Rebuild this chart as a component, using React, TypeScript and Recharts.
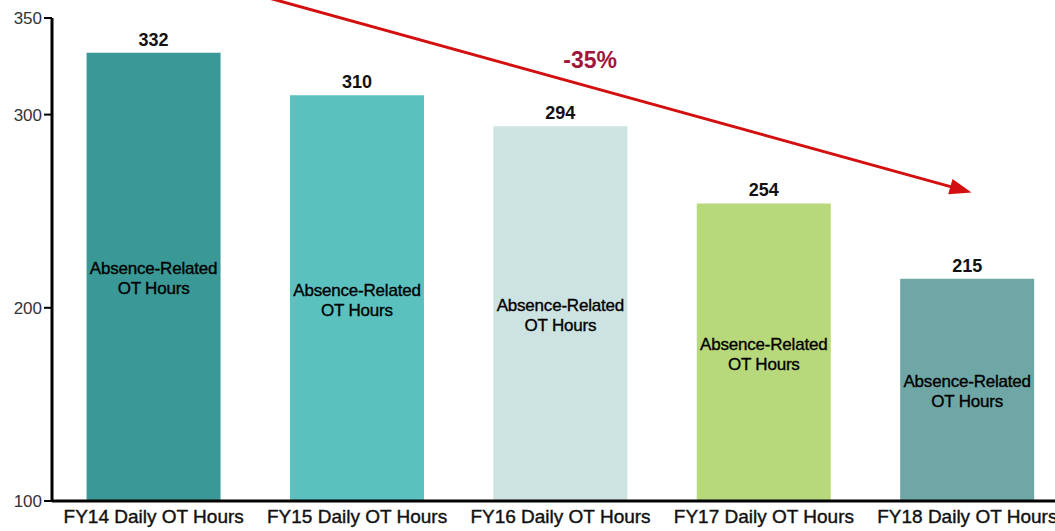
import React from "react";
import {
  BarChart,
  Bar,
  XAxis,
  YAxis,
  Cell,
  LabelList,
  ReferenceLine,
} from "recharts";

const categories = [
  "FY14 Daily OT Hours",
  "FY15 Daily OT Hours",
  "FY16 Daily OT Hours",
  "FY17 Daily OT Hours",
  "FY18 Daily OT Hours",
];
const values = [332, 310, 294, 254, 215];
const barColors = ["#3A9896", "#5BC1BF", "#CDE3E1", "#B8D87C", "#6FA6A6"];
const yTicks = [100, 200, 300, 350];
const innerLabel = ["Absence-Related", "OT Hours"];
const changeLabel = "-35%";
// trend arrow anchored at FY15 and FY18 category centres (values on the y scale)
const arrowFrom = { x: "FY15 Daily OT Hours", y: 347.7 };
const arrowTo = { x: "FY18 Daily OT Hours", y: 260.3 };
const arrowExtendStart = 0.18;
const arrowExtendEnd = 0.007;
const changeLabelAt = 0.382;

const data = categories.map((c, i) => ({ name: c, value: values[i] }));

const FONT = "'Liberation Sans', Arial, sans-serif";

const InnerLabel = (props: any) => {
  const { x, y, width, height } = props;
  const cx = x + width / 2;
  const cy = y + height / 2;
  return (
    <text
      x={cx}
      y={cy}
      textAnchor="middle"
      fontFamily={FONT}
      fontSize={17}
      fill="#000"
      stroke="#000"
      strokeWidth={0.35}
      letterSpacing={-0.2}
    >
      <tspan x={cx} dy={-2.5}>{innerLabel[0]}</tspan>
      <tspan x={cx} dy={20}>{innerLabel[1]}</tspan>
    </text>
  );
};

const ArrowShape = (props: any) => {
  const { x1: ax, y1: ay, x2: bx0, y2: by0 } = props;
  const sdx = bx0 - ax;
  const sdy = by0 - ay;
  const x1 = ax - sdx * arrowExtendStart;
  const y1 = ay - sdy * arrowExtendStart;
  const x2 = bx0 + sdx * arrowExtendEnd;
  const y2 = by0 + sdy * arrowExtendEnd;
  const dx = x2 - x1;
  const dy = y2 - y1;
  const len = Math.sqrt(dx * dx + dy * dy);
  const ux = dx / len;
  const uy = dy / len;
  const headLen = 22;
  const headHalf = 8;
  const bx = x2 - ux * headLen;
  const by = y2 - uy * headLen;
  const px = -uy;
  const py = ux;
  const tx = ax + sdx * changeLabelAt;
  const ty = ay + sdy * changeLabelAt;
  return (
    <g>
      <line x1={x1} y1={y1} x2={bx + ux * 2} y2={by + uy * 2} stroke="#D40F0F" strokeWidth={3} />
      <polygon
        points={`${x2},${y2} ${bx + px * headHalf},${by + py * headHalf} ${bx - px * headHalf},${by - py * headHalf}`}
        fill="#D40F0F"
      />
      <text
        x={tx}
        y={ty - 19}
        textAnchor="middle"
        fontFamily={FONT}
        fontWeight="bold"
        fontSize={23}
        fill="#A0153E"
      >
        {changeLabel}
      </text>
    </g>
  );
};

export default function App() {
  return (
    <div
      style={{
        position: "fixed",
        left: 0,
        top: 0,
        width: 1055,
        height: 531,
        overflow: "hidden",
        background: "#fff",
      }}
    >
      <BarChart
        width={1075}
        height={531}
        data={data}
        margin={{ top: 18, right: 6, bottom: 0, left: 0 }}
        barCategoryGap="17%"
      >
        <XAxis
          dataKey="name"
          tickLine={false}
          axisLine={{ stroke: "#000", strokeWidth: 3 }}
          height={30}
          interval={0}
          tick={{ fontFamily: FONT, fontSize: 19, fill: "#111", stroke: "#111", strokeWidth: 0.4 }}
          tickMargin={3}
        />
        <YAxis
          width={52}
          domain={[100, 350]}
          ticks={yTicks}
          interval={0}
          allowDataOverflow
          axisLine={{ stroke: "#000", strokeWidth: 3 }}
          tickLine={{ stroke: "#000", strokeWidth: 2 }}
          tickSize={8}
          tick={{ fontFamily: FONT, fontSize: 17, fill: "#333" }}
        />
        <Bar dataKey="value" isAnimationActive={false}>
          {data.map((d, i) => (
            <Cell key={d.name} fill={barColors[i]} />
          ))}
          <LabelList
            dataKey="value"
            position="top"
            offset={7}
            style={{ fontFamily: FONT, fontSize: 18, fontWeight: "bold", fill: "#111" }}
          />
          <LabelList dataKey="value" content={InnerLabel} />
        </Bar>
        <ReferenceLine
          ifOverflow="visible"
          segment={[arrowFrom, arrowTo]}
          shape={ArrowShape}
        />
      </BarChart>
    </div>
  );
}
